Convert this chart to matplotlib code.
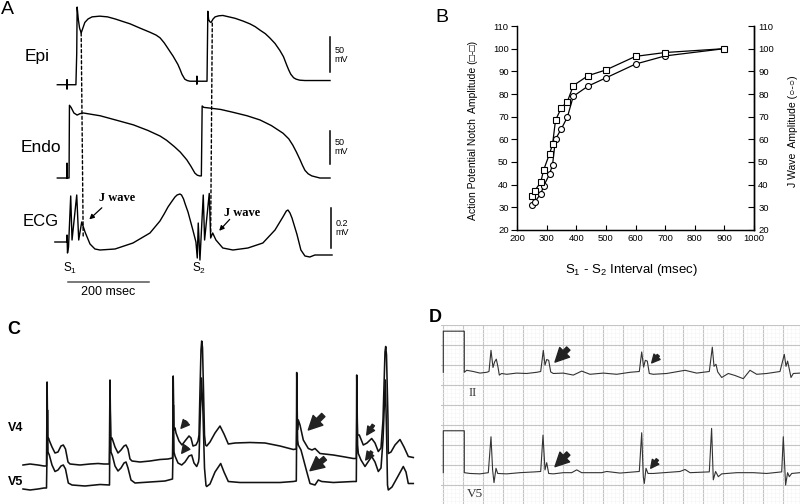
import matplotlib
matplotlib.use("Agg")
import matplotlib.pyplot as plt
import numpy as np
from matplotlib.patches import ConnectionPatch

plt.rcParams["font.family"] = ["Liberation Sans", "DejaVu Sans"]
plt.rcParams["mathtext.fontset"] = "custom"
plt.rcParams["mathtext.rm"] = "Liberation Sans"
plt.rcParams["mathtext.it"] = "Liberation Sans:italic"

W, H = 800, 504

# ---- panel A: action potentials (ms, mV) and ECG (ms, mV)
EPI_TRACE = [
    (-24, -85), (0, -85), (0, -78), (0, -91), (0, -85), (22, -85), (24, -40), (25, 26), (28, 8),
    (31, -4), (35, -11), (38, -6), (44, 4), (52, 9), (62, 12), (81, 13), (100, 12), (119, 9),
    (140, 5), (156, 2), (180, -4), (205, -10), (220, -14), (230, -18), (240, -25), (247, -31),
    (255, -38), (262, -44), (268, -50), (274, -56), (280, -64), (284, -70), (288, -74), (291, -77),
    (297, -79), (304, -80), (321, -80), (321, -73), (321, -84), (321, -80), (346, -80), (348, 20),
    (350, 8), (353, 5), (356, 4), (361, 9), (366, 12), (375, 13.5), (385, 14), (400, 12), (415, 10),
    (435, 6), (452, 2), (465, -2), (477, -7), (490, -12), (501, -18), (514, -26), (526, -36),
    (535, -45), (543, -57), (548, -64), (553, -70), (560, -75), (566, -77), (575, -78.5),
    (588, -79), (650, -79),
]
ENDO_TRACE = [
    (-24, -85), (0, -85), (0, -64), (0, -85), (5, -85), (6, 19), (10, 16), (17, 8), (25, 5),
    (32, 7), (40, 8), (82, 4), (120, -2), (164, -9), (200, -17), (230, -25), (246, -31),
    (265, -40), (280, -48), (296, -59), (306, -68), (316, -78), (322, -81), (328, -82), (332, -82),
    (334, 18), (338, 16), (353, 15), (380, 13), (410, 9), (445, 4), (477, -2), (505, -10),
    (534, -21), (548, -29), (558, -38), (567, -48), (576, -59), (582, -67), (588, -74), (596, -79),
    (605, -82), (625, -85), (650, -85),
]
ECG_TRACE = [
    (-30, 0), (-1, 0), (0, 0.035), (1.2, -0.055), (3.7, -0.025), (9.1, 0.23), (12.4, 0.01),
    (24, 0.235), (28.9, 0.01), (36.3, 0.10), (44.5, 0.05), (56.8, -0.01), (69, -0.035),
    (81.5, -0.04), (118.6, -0.035), (163, -0.005), (205, 0.045), (229.7, 0.105), (240, 0.14),
    (249.5, 0.175), (258, 0.2), (266.8, 0.225), (272, 0.235), (279, 0.24), (283, 0.235),
    (288, 0.215), (292, 0.19), (299, 0.15), (311, 0.06), (318.6, 0), (321.9, -0.08),
    (324.3, 0.095), (328.5, -0.09), (336.7, 0.235), (340, 0.01), (351.5, 0.243), (355, 0.02),
    (360, 0.045), (368, 0.01), (385, -0.03), (410, -0.04), (447, -0.03), (484, -0.005),
    (514, 0.06), (533.5, 0.125), (542, 0.155), (546, 0.16), (551, 0.145), (556, 0.12),
    (568, 0.04), (578, -0.04), (588, -0.07), (600, -0.075), (612.6, -0.065), (655, -0.065),
]

# ---- panel B
INTERVAL_MS = [250, 260, 280, 290, 310, 320, 330, 350, 370, 390, 440, 500, 600, 700, 900]
NOTCH_AMP = [34.9, 37.4, 41.0, 46.5, 53.7, 57.8, 68.4, 74.0, 76.6, 83.7, 88.1, 90.6, 96.6, 98.3, 100]
J_AMP = [31.2, 32.4, 35.9, 39.4, 44.7, 48.8, 60.1, 64.7, 69.8, 79.0, 83.5, 87.1, 93.2, 96.8, 100]
B_XTICKS = [200, 300, 400, 500, 600, 700, 800, 900, 1000]
B_YTICKS = [20, 30, 40, 50, 60, 70, 80, 90, 100, 110]

# ---- panel C: leads V4 / V5 (s, mV)
V4_TRACE = [
    (0.03, 0), (0.10, 0.02), (0.18, 0), (0.24, -0.02), (0.265, -0.02), (0.267, 0.5), (0.271, 1.66),
    (0.277, 0.5), (0.285, 0.54), (0.295, 0.48), (0.32, 0.36), (0.35, 0.24), (0.38, 0.26),
    (0.41, 0.38), (0.433, 0.40), (0.455, 0.32), (0.48, 0.06), (0.50, 0.02), (0.60, 0), (0.70, 0.02),
    (0.78, 0.03), (0.84, 0.02), (0.893, 0.02),
    (0.895, 0.5), (0.90, 1.70), (0.907, 0.5), (0.92, 0.54), (0.93, 0.48), (0.95, 0.36), (0.98, 0.24),
    (1.01, 0.30), (1.04, 0.38), (1.06, 0.40), (1.08, 0.32), (1.10, 0.12), (1.12, 0.08), (1.20, 0.06),
    (1.30, 0.08), (1.40, 0.11), (1.48, 0.12), (1.525, 0.14),
    (1.528, 0.60), (1.532, 1.78), (1.54, 0.70), (1.55, 0.74), (1.56, 0.64), (1.59, 0.48),
    (1.62, 0.40), (1.65, 0.48), (1.69, 0.58), (1.71, 0.54), (1.73, 0.38), (1.76, 0.40), (1.78, 0.48),
    (1.79, 0.6), (1.80, 1.5), (1.81, 2.3), (1.817, 2.48), (1.825, 2.35), (1.835, 1.5), (1.845, 0.6),
    (1.855, 0.40), (1.867, 0.38), (1.90, 0.46), (1.95, 0.64), (2.00, 0.78), (2.04, 0.62),
    (2.083, 0.42), (2.15, 0.44), (2.30, 0.45), (2.45, 0.44), (2.60, 0.38), (2.733, 0.31),
    (2.763, 0.32),
    (2.765, 0.70), (2.767, 1.85), (2.775, 0.70), (2.783, 0.90), (2.80, 0.80), (2.833, 0.50),
    (2.883, 0.33), (2.92, 0.30), (2.95, 0.33), (3.00, 0.23), (3.133, 0.20), (3.25, 0.16),
    (3.333, 0.13), (3.363, 0.13),
    (3.365, 0.60), (3.367, 1.80), (3.375, 0.60), (3.393, 0.60), (3.433, 0.40), (3.47, 0.44),
    (3.517, 0.53), (3.55, 0.44), (3.583, 0.27), (3.61, 0.34),
    (3.63, 0.90), (3.65, 2.26), (3.657, 2.37), (3.665, 2.20), (3.68, 0.90), (3.683, 0.23),
    (3.71, 0.26), (3.75, 0.40), (3.80, 0.51), (3.84, 0.36), (3.883, 0.17), (3.933, 0.15),
]
V5_TRACE = [
    (0.03, -0.02), (0.10, -0.04), (0.18, -0.02), (0.24, 0), (0.265, 0), (0.27, 0.66), (0.275, 1.56),
    (0.28, 0.72), (0.293, 0.66), (0.32, 0.46), (0.35, 0.33), (0.38, 0.36), (0.41, 0.44),
    (0.433, 0.46), (0.455, 0.38), (0.483, 0.10), (0.52, 0.06), (0.65, 0.04), (0.80, 0.07),
    (0.895, 0.06),
    (0.897, 0.66), (0.902, 1.56), (0.91, 0.72), (0.925, 0.64), (0.95, 0.44), (0.98, 0.34),
    (1.01, 0.40), (1.04, 0.50), (1.06, 0.52), (1.08, 0.40), (1.11, 0.16), (1.15, 0.10), (1.30, 0.12),
    (1.45, 0.14), (1.525, 0.18),
    (1.53, 0.72), (1.534, 1.66), (1.54, 0.72), (1.55, 0.64), (1.58, 0.50), (1.617, 0.46),
    (1.65, 0.52), (1.69, 0.64), (1.717, 0.66), (1.74, 0.50), (1.767, 0.43), (1.785, 0.52),
    (1.79, 0.6), (1.805, 1.6), (1.815, 2.2), (1.83, 1.5), (1.845, 0.4), (1.86, 0.05), (1.867, 0.03),
    (1.90, 0.08), (1.95, 0.32), (2.007, 0.49), (2.04, 0.32), (2.083, 0.13), (2.20, 0.11),
    (2.40, 0.11), (2.60, 0.11), (2.733, 0.13), (2.763, 0.14),
    (2.766, 0.96), (2.769, 1.76), (2.776, 0.96), (2.783, 0.86), (2.81, 0.76), (2.867, 0.33),
    (2.90, 0.09), (2.95, 0.06), (2.983, 0.16), (3.017, 0.13), (3.133, 0.11), (3.333, 0.13),
    (3.363, 0.13),
    (3.366, 0.96), (3.369, 1.66), (3.376, 0.86), (3.383, 0.69), (3.41, 0.56), (3.45, 0.43),
    (3.48, 0.52), (3.517, 0.63), (3.55, 0.52), (3.583, 0.33), (3.61, 0.40),
    (3.63, 0.96), (3.653, 2.16), (3.665, 1.16), (3.675, 0.06), (3.683, -0.04), (3.72, 0.02),
    (3.77, 0.20), (3.833, 0.43), (3.86, 0.32), (3.883, 0.09), (3.933, 0.09),
]
V5_OFFSET = -0.46

# ---- panel D: leads II / V5 on ECG paper (s, mV)
II_TRACE = [
    (0.0, 0), (0.0, 1.03), (0.21, 1.03), (0.21, 0), (0.234, 0.05), (0.30, 0.02), (0.367, -0.02),
    (0.434, 0), (0.457, 0.02), (0.477, 0.55), (0.497, 0.12), (0.513, 0.26), (0.53, 0.33),
    (0.547, 0.13), (0.56, -0.07), (0.583, -0.03), (0.634, -0.05), (0.734, -0.02), (0.834, -0.03),
    (0.934, 0), (0.974, 0.02), (1.0, 0.55), (1.017, 0.18), (1.034, 0.32), (1.054, 0.30),
    (1.074, 0.01), (1.10, -0.03), (1.20, -0.02), (1.30, -0.07), (1.384, 0.03), (1.467, -0.05),
    (1.60, -0.02), (1.734, -0.05), (1.867, 0), (1.96, 0.02), (1.984, 0.51), (2.003, 0.13),
    (2.02, 0.30), (2.04, 0.28), (2.06, -0.03), (2.10, -0.05), (2.234, -0.03), (2.417, 0.05),
    (2.534, -0.02), (2.66, 0.02), (2.69, 0.63), (2.707, 0.15), (2.727, 0.20), (2.744, 0.01),
    (2.784, -0.13), (2.85, -0.03), (2.917, -0.08), (3.0, -0.16), (3.067, 0.05), (3.134, -0.05),
    (3.234, -0.03), (3.367, 0.02), (3.41, 0.45), (3.427, 0.15), (3.443, 0.28), (3.46, 0.08),
    (3.477, -0.13), (3.50, -0.03), (3.567, -0.02),
]
D_V5_TRACE = [
    (0.0, 0), (0.0, 1.05), (0.21, 1.05), (0.21, 0), (0.267, -0.02), (0.367, -0.03), (0.45, 0),
    (0.477, 0.90), (0.493, 0.07), (0.507, -0.25), (0.527, 0.11), (0.544, -0.02), (0.634, -0.03),
    (0.767, 0), (0.917, 0.02), (0.974, 0.03), (0.997, 0.94), (1.017, 0.07), (1.034, 0.25),
    (1.054, -0.02), (1.10, -0.03), (1.20, 0), (1.284, 0), (1.334, 0.07), (1.384, 0), (1.584, 0),
    (1.634, 0.03), (1.767, -0.01), (1.96, 0.03), (1.984, 1.0), (2.0, -0.10), (2.01, -0.27),
    (2.027, 0.11), (2.047, -0.02), (2.10, -0.02), (2.367, 0.03), (2.417, 0.08), (2.467, 0),
    (2.66, 0.02), (2.683, 1.11), (2.70, -0.18), (2.723, 0.03), (2.75, -0.10), (2.784, -0.03),
    (2.934, 0), (3.10, 0), (3.234, -0.02), (3.384, 0.02), (3.40, 0.9), (3.423, -0.31),
    (3.443, 0), (3.46, -0.10), (3.484, -0.02), (3.567, 0),
]
II_OFFSET = 2.325
D_V5_OFFSET = -0.19


def px_axes(fig, x0, y0, x1, y1):
    ax = fig.add_axes([x0 / W, 1 - y1 / H, (x1 - x0) / W, (y1 - y0) / H])
    return ax


def ftext(fig, x, y, s, **kw):
    fig.text(x / W, 1 - y / H, s, ha="center", va="center", **kw)


def arrow(ax, head, tail, big=False):
    scale = 11 if big else 6.5
    ax.annotate("", xy=head, xytext=tail,
                arrowprops=dict(arrowstyle="simple,head_length=0.9,head_width=0.9,tail_width=0.3",
                                color="#222222", mutation_scale=scale, shrinkA=0, shrinkB=0))


fig = plt.figure(figsize=(8, 5.04), dpi=100)

# ============ Panel A ============
ax_epi = px_axes(fig, 48, 0, 345, 92)
ax_endo = px_axes(fig, 48, 95, 345, 185)
ax_ecg = px_axes(fig, 48, 185, 345, 300)
for ax, trace, ylim in [(ax_epi, EPI_TRACE, (-95.4, 36.1)),
                        (ax_endo, ENDO_TRACE, (-95, 33.7)),
                        (ax_ecg, ECG_TRACE, (-0.29, 0.285))]:
    t, v = np.array(trace).T
    ax.plot(t, v, color="k", lw=1.0)
    ax.set_xlim(-47, 687)
    ax.set_ylim(*ylim)
    ax.axis("off")

# scale bars
ax_epi.plot([651, 651], [-17, -67], color="k", lw=1.1)
ax_epi.text(662, -42, "50\nmV", fontsize=6.5, ha="left", va="center", linespacing=1.0)
ax_endo.plot([651, 651], [-18, -65], color="k", lw=1.1)
ax_endo.text(662, -41, "50\nmV", fontsize=6.5, ha="left", va="center", linespacing=1.0)
ax_ecg.plot([652, 652], [0.17, -0.03], color="k", lw=1.1)
ax_ecg.text(663, 0.07, "0.2\nmV", fontsize=6.5, ha="left", va="center", linespacing=1.0)

# dashed alignment lines
for top, bottom in [((35, -11), (40, 0.02)), ((359, 3), (355, 0.045))]:
    con = ConnectionPatch(xyA=top, coordsA=ax_epi.transData, xyB=bottom, coordsB=ax_ecg.transData,
                          color="k", lw=1.0, linestyle=(0, (2.2, 1.8)))
    fig.add_artist(con)

jfont = dict(family="Liberation Serif", fontweight="bold", fontsize=9)
ax_ecg.text(123, 0.222, "J wave", ha="center", va="center", **jfont)
ax_ecg.text(433, 0.146, "J wave", ha="center", va="center", **jfont)
for head, tail in [((55, 0.113), (86, 0.171)), ((376, 0.056), (402, 0.113))]:
    ax_ecg.annotate("", xy=head, xytext=tail,
                    arrowprops=dict(arrowstyle="-|>", color="k", lw=0.9, mutation_scale=7,
                                    shrinkA=0, shrinkB=0))
ax_ecg.text(7, -0.13, "S$_1$", fontsize=8.5, ha="center", va="center")
ax_ecg.text(327, -0.13, "S$_2$", fontsize=8.5, ha="center", va="center")
ax_ecg.plot([2.5, 202.5], [-0.2, -0.2], color="#555555", lw=1.1)
ax_ecg.text(102.5, -0.25, "200 msec", fontsize=9, ha="center", va="center")

ftext(fig, 7, 9, "A", fontsize=14)
ftext(fig, 37, 56, "Epi", fontsize=12.5)
ftext(fig, 41, 147, "Endo", fontsize=12.5)
ftext(fig, 41, 222, "ECG", fontsize=12)

# ============ Panel B ============
axb = px_axes(fig, 517, 26, 754, 230)
axb.plot(INTERVAL_MS, J_AMP, "-o", color="k", mfc="white", ms=4.3, lw=0.9, mew=0.8)
axb.plot(INTERVAL_MS, NOTCH_AMP, "-s", color="k", mfc="white", ms=4.0, lw=0.9, mew=0.8)
axb.set_xlim(200, 1000)
axb.set_ylim(20, 110)
axb.set_xticks(B_XTICKS)
axb.set_yticks(B_YTICKS)
axb.spines["top"].set_visible(False)
for s in axb.spines.values():
    s.set_linewidth(1.0)
axb.tick_params(axis="y", direction="out", length=4, width=0.8, labelsize=6.8, pad=2)
axb.tick_params(axis="x", direction="in", length=3.5, width=0.8, labelsize=6.8, pad=3)
axb.set_xlabel("S$_1$ - S$_2$ Interval (msec)", fontsize=9.5)
axb.xaxis.set_label_coords(0.484, -0.157)
axb.set_ylabel("Action Potential Notch  Amplitude (\u25a1-\u25a1)", fontsize=7.5)
axb.yaxis.set_label_coords(-0.165, 0.487)

axr = axb.twinx()
axr.set_ylim(20, 110)
axr.set_yticks(B_YTICKS)
axr.spines["top"].set_visible(False)
axr.spines["right"].set_linewidth(1.0)
axr.tick_params(axis="y", direction="in", length=4, width=0.8, labelsize=6.8, pad=3)
axr.set_ylabel("J Wave  Amplitude (\u25cb-\u25cb)", fontsize=7.5, rotation=90)
axr.yaxis.set_label_coords(1.143, 0.485)
ftext(fig, 442, 17, "B", fontsize=14)

# ============ Panel C ============
axc = px_axes(fig, 20, 330, 420, 504)
t4, v4 = np.array(V4_TRACE).T
t5, v5 = np.array(V5_TRACE).T
axc.plot(t4, v4, color="#111111", lw=1.15)
axc.plot(t5, v5 + V5_OFFSET, color="#111111", lw=1.15)
axc.set_xlim(0, 4.0)
axc.set_ylim(-0.78, 2.7)
axc.axis("off")
arrow(axc, (1.61, 0.734), (1.667, 0.866))
arrow(axc, (1.617, 0.234), (1.667, 0.366))
arrow(axc, (2.883, 0.70), (3.033, 1.0), big=True)
arrow(axc, (2.90, -0.114), (3.05, 0.134), big=True)
arrow(axc, (3.467, 0.60), (3.533, 0.80))
arrow(axc, (3.457, 0.10), (3.517, 0.266))
ftext(fig, 14, 329, "C", fontsize=13, fontweight="bold")
ftext(fig, 16, 428, "V4", fontsize=9, fontweight="bold")
ftext(fig, 16, 482, "V5", fontsize=9, fontweight="bold")

# ============ Panel D ============
axd = px_axes(fig, 441, 325, 800, 504)
axd.set_xlim(-0.023, 3.567)
axd.set_ylim(-0.975, 3.51)
axd.set_xticks(np.arange(0, 3.6, 0.2))
axd.set_yticks(np.arange(-0.5, 3.6, 0.5))
axd.set_xticks(np.arange(0, 3.6, 0.04), minor=True)
axd.set_yticks(np.arange(-0.9, 3.55, 0.1), minor=True)
axd.grid(which="minor", color="#f5f5f5", lw=0.4)
axd.grid(which="major", color="#c4c4c4", lw=0.8)
axd.set_axisbelow(True)
axd.tick_params(which="both", length=0, labelbottom=False, labelleft=False)
for s in axd.spines.values():
    s.set_visible(False)
tii, vii = np.array(II_TRACE).T
td5, vd5 = np.array(D_V5_TRACE).T
axd.plot(tii, vii + II_OFFSET, color="#333333", lw=0.8)
axd.plot(td5, vd5 + D_V5_OFFSET, color="#333333", lw=0.8)
arrow(axd, (1.117, 2.58), (1.25, 2.92), big=True)
arrow(axd, (2.084, 2.56), (2.15, 2.75))
arrow(axd, (1.117, -0.04), (1.25, 0.29), big=True)
arrow(axd, (2.074, -0.08), (2.14, 0.14))
axd.text(0.29, 1.81, "II", family="Liberation Serif", fontsize=9, ha="center", va="center",
         color="#333333")
axd.text(0.317, -0.725, "V5", family="Liberation Serif", fontsize=9.5, ha="center", va="center",
         color="#333333")
ftext(fig, 435, 318, "D", fontsize=13, fontweight="bold")

fig.savefig("out.png", dpi=100)
